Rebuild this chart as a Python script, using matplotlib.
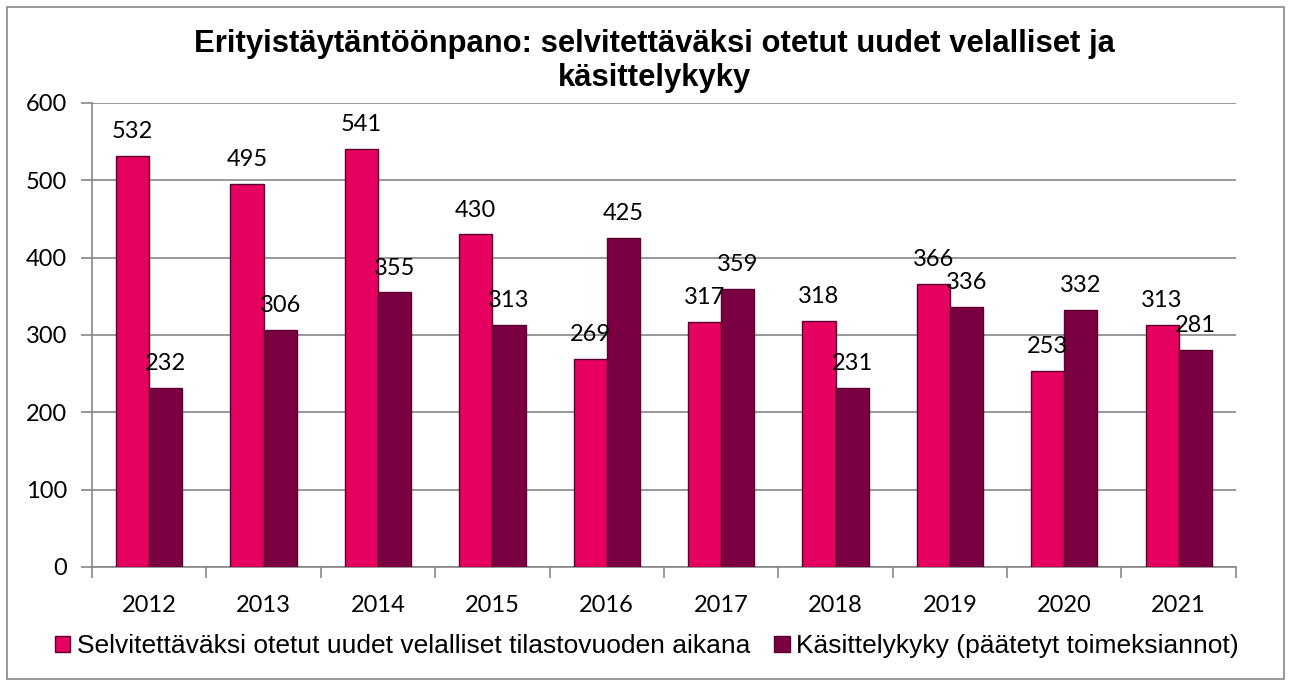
import matplotlib.pyplot as plt
from matplotlib.patches import Rectangle
import numpy as np

# data
years = ["2012", "2013", "2014", "2015", "2016", "2017", "2018", "2019", "2020", "2021"]
uudet = [532, 495, 541, 430, 269, 317, 318, 366, 253, 313]
kasittely = [232, 306, 355, 313, 425, 359, 231, 336, 332, 281]
labels = ["Selvitettäväksi otetut uudet velalliset tilastovuoden aikana",
          "Käsittelykyky (päätetyt toimeksiannot)"]
title = "Erityistäytäntöönpano: selvitettäväksi otetut uudet velalliset ja\nkäsittelykyky"

pink = "#E6005F"
wine = "#7B0041"
edge = "#5A0030"
grey = "#868686"

fig = plt.figure(figsize=(12.91, 6.86), dpi=100)
ax = fig.add_axes([0.0713, 0.1735, 0.886, 0.6764])

# outer frame of the chart
fig.patches.append(Rectangle((7 / 1291, 7 / 686), 1277 / 1291, 672 / 686,
                             transform=fig.transFigure, fill=False,
                             edgecolor=grey, linewidth=1.2))

x = np.arange(len(years)) + 0.5
w = 0.29
b1 = ax.bar(x - w / 2, uudet, w, color=pink, edgecolor=edge, linewidth=1, label=labels[0], zorder=3)
b2 = ax.bar(x + w / 2, kasittely, w, color=wine, edgecolor=edge, linewidth=1, label=labels[1], zorder=3)

for bars in (b1, b2):
    for r in bars:
        ax.annotate(str(int(r.get_height())), (r.get_x() + r.get_width() / 2, r.get_height()),
                    xytext=(0, 10), textcoords="offset points", ha="center", va="bottom",
                    fontsize=17, family="Lato", color="black", zorder=4)

ax.set_xlim(0, 10)
ax.set_ylim(0, 600)
ax.set_yticks(range(0, 601, 100))
ax.yaxis.grid(True, color=grey, linewidth=1.2, zorder=0)
ax.set_xticks(range(0, 11))
ax.set_xticklabels([])
ax.set_xticks(x, minor=True)
ax.set_xticklabels(years, minor=True)
ax.tick_params(axis="x", which="major", direction="out", length=8, color=grey, width=1.2)
ax.tick_params(axis="x", which="minor", length=0, pad=20, labelsize=17)
ax.tick_params(axis="y", direction="out", length=8, color=grey, width=1.2, labelsize=17, pad=10)
for t in ax.get_xticklabels(minor=True) + ax.get_yticklabels():
    t.set_family("Lato")

for s in ["top", "right"]:
    ax.spines[s].set_visible(False)
for s in ["left", "bottom"]:
    ax.spines[s].set_color(grey)
    ax.spines[s].set_linewidth(1.2)

fig.text(0.507, 0.957, title, ha="center", va="top", fontsize=22.3, fontweight="bold",
         family="Liberation Sans", linespacing=1.15)

fig.legend(handles=[b1, b2], loc="center left", bbox_to_anchor=(0.032, 0.058), ncol=2,
           frameon=False, prop={"family": "Liberation Sans", "size": 19},
           handlelength=0.6, handleheight=0.6, handletextpad=0.25, columnspacing=0.9,
           borderpad=0)

fig.savefig("out.png", dpi=100)
